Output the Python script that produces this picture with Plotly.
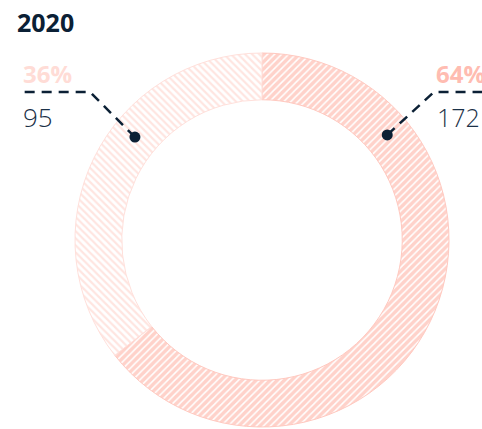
import math
import plotly.graph_objects as go

title = "2020"
labels = ["A", "B"]
values = [172, 95]
percents = ["64%", "36%"]
colors = ["#ffa595", "#ffcbc2"]
patterns = ["/", "\\"]

W, H = 482, 429
cx, cy, R, r_in = 262, 240, 187, 140

fig = go.Figure(go.Pie(
    labels=labels, values=values, hole=0.75, sort=False, direction="clockwise",
    rotation=0, textinfo="none", hoverinfo="skip", showlegend=False,
    marker=dict(colors=["white", "white"],
                line=dict(color=["#ffc9c0", "#ffe0db"], width=1),
                pattern=dict(shape=patterns, fgcolor=colors, bgcolor="white",
                             size=5, solidity=[0.7, 0.45], fillmode="overlay")),
    domain=dict(x=[(cx - R) / W, (cx + R) / W], y=[1 - (cy + R) / H, 1 - (cy - R) / H]),
))

shapes = []
annotations = []
navy = "#0b2035"
label_colors = ["#ffbcb1", "#ffdcd6"]
rm = (R + r_in) / 2
for side, ang, pct, val, col in [(1, 50, percents[0], values[0], label_colors[0]),
                                  (-1, 51, percents[1], values[1], label_colors[1])]:
    a = math.radians(ang)
    dx, dy = cx + side * rm * math.sin(a), cy - rm * math.cos(a)
    kx, ky = (cx + side * 172, 92)
    ex = W + 2 if side == 1 else 22
    path = f"M {dx/W},{1-dy/H} L {kx/W},{1-ky/H} L {ex/W},{1-ky/H}"
    shapes.append(dict(type="path", xref="paper", yref="paper", path=path,
                       line=dict(color=navy, width=2.5, dash="10px,7px")))
    shapes.append(dict(type="circle", xref="paper", yref="paper",
                       x0=(dx - 5.5) / W, x1=(dx + 5.5) / W, y0=1 - (dy + 5.5) / H, y1=1 - (dy - 5.5) / H,
                       fillcolor=navy, line=dict(width=0)))
    if side == 1:
        annotations.append(dict(x=434 / W, y=1 - 74 / H, xref="paper", yref="paper", text=f"<b>{pct}</b>",
                                showarrow=False, xanchor="left", yanchor="middle",
                                font=dict(family="Open Sans", size=24, color=col)))
        annotations.append(dict(x=1, y=1 - 117 / H, xref="paper", yref="paper", text=str(val),
                                showarrow=False, xanchor="right", yanchor="middle",
                                font=dict(family="Open Sans", size=25, color="#1b3148", weight=300)))
    else:
        annotations.append(dict(x=21 / W, y=1 - 74 / H, xref="paper", yref="paper", text=f"<b>{pct}</b>",
                                showarrow=False, xanchor="left", yanchor="middle",
                                font=dict(family="Open Sans", size=24, color=col)))
        annotations.append(dict(x=21 / W, y=1 - 117 / H, xref="paper", yref="paper", text=str(val),
                                showarrow=False, xanchor="left", yanchor="middle",
                                font=dict(family="Open Sans", size=26, color="#1b3148", weight=300)))

annotations.append(dict(x=15 / W, y=1 - 22 / H, xref="paper", yref="paper", text=f"<b>{title}</b>",
                        showarrow=False, xanchor="left", yanchor="middle",
                        font=dict(family="Open Sans", size=25, color=navy)))

fig.update_layout(width=W, height=H, margin=dict(l=0, r=0, t=0, b=0),
                  paper_bgcolor="white", plot_bgcolor="white",
                  shapes=shapes, annotations=annotations)
fig.write_html("out.html", config={"displayModeBar": False},
               post_script="document.body.style.margin='0';document.body.style.overflow='hidden';")
